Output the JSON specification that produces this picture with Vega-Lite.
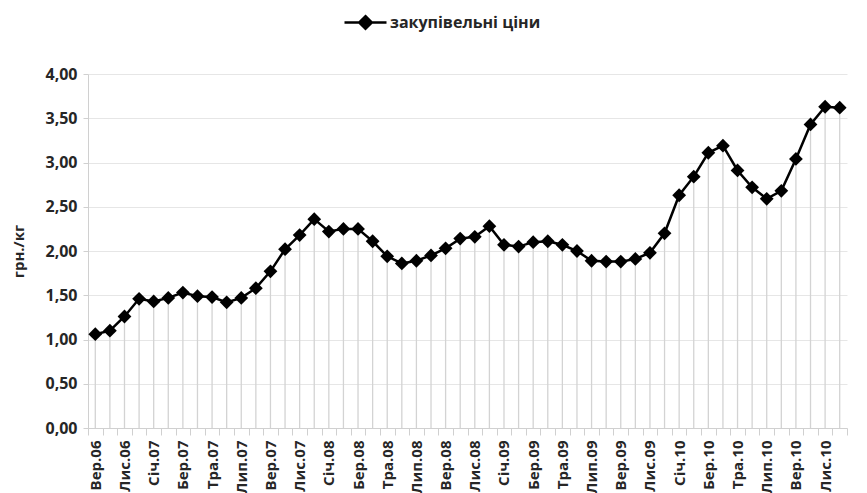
{
  "$schema": "https://vega.github.io/schema/vega-lite/v6.json",
  "width": 759,
  "height": 354,
  "autosize": {"type": "none"},
  "padding": {"left": 88, "top": 74, "right": 20, "bottom": 65},
  "background": "white",
  "config": {
    "view": {"stroke": null},
    "font": "Open Sans",
    "axis": {
      "labelFont": "Open Sans",
      "labelFontWeight": "bold",
      "labelColor": "#262626",
      "titleFont": "Open Sans",
      "titleFontWeight": "bold",
      "titleColor": "#262626",
      "domainColor": "#d0d0d0",
      "tickColor": "#d0d0d0",
      "gridColor": "#e6e6e6"
    }
  },
  "data": {
    "values": [
      {"m": "Вер.06", "v": 1.06, "s": "закупівельні ціни"},
      {"m": "Жов.06", "v": 1.10, "s": "закупівельні ціни"},
      {"m": "Лис.06", "v": 1.26, "s": "закупівельні ціни"},
      {"m": "Гру.06", "v": 1.46, "s": "закупівельні ціни"},
      {"m": "Січ.07", "v": 1.43, "s": "закупівельні ціни"},
      {"m": "Лют.07", "v": 1.47, "s": "закупівельні ціни"},
      {"m": "Бер.07", "v": 1.53, "s": "закупівельні ціни"},
      {"m": "Кві.07", "v": 1.49, "s": "закупівельні ціни"},
      {"m": "Тра.07", "v": 1.48, "s": "закупівельні ціни"},
      {"m": "Чер.07", "v": 1.42, "s": "закупівельні ціни"},
      {"m": "Лип.07", "v": 1.47, "s": "закупівельні ціни"},
      {"m": "Сер.07", "v": 1.58, "s": "закупівельні ціни"},
      {"m": "Вер.07", "v": 1.77, "s": "закупівельні ціни"},
      {"m": "Жов.07", "v": 2.02, "s": "закупівельні ціни"},
      {"m": "Лис.07", "v": 2.18, "s": "закупівельні ціни"},
      {"m": "Гру.07", "v": 2.36, "s": "закупівельні ціни"},
      {"m": "Січ.08", "v": 2.22, "s": "закупівельні ціни"},
      {"m": "Лют.08", "v": 2.25, "s": "закупівельні ціни"},
      {"m": "Бер.08", "v": 2.25, "s": "закупівельні ціни"},
      {"m": "Кві.08", "v": 2.11, "s": "закупівельні ціни"},
      {"m": "Тра.08", "v": 1.94, "s": "закупівельні ціни"},
      {"m": "Чер.08", "v": 1.86, "s": "закупівельні ціни"},
      {"m": "Лип.08", "v": 1.89, "s": "закупівельні ціни"},
      {"m": "Сер.08", "v": 1.95, "s": "закупівельні ціни"},
      {"m": "Вер.08", "v": 2.03, "s": "закупівельні ціни"},
      {"m": "Жов.08", "v": 2.14, "s": "закупівельні ціни"},
      {"m": "Лис.08", "v": 2.16, "s": "закупівельні ціни"},
      {"m": "Гру.08", "v": 2.28, "s": "закупівельні ціни"},
      {"m": "Січ.09", "v": 2.07, "s": "закупівельні ціни"},
      {"m": "Лют.09", "v": 2.05, "s": "закупівельні ціни"},
      {"m": "Бер.09", "v": 2.10, "s": "закупівельні ціни"},
      {"m": "Кві.09", "v": 2.11, "s": "закупівельні ціни"},
      {"m": "Тра.09", "v": 2.07, "s": "закупівельні ціни"},
      {"m": "Чер.09", "v": 2.00, "s": "закупівельні ціни"},
      {"m": "Лип.09", "v": 1.89, "s": "закупівельні ціни"},
      {"m": "Сер.09", "v": 1.88, "s": "закупівельні ціни"},
      {"m": "Вер.09", "v": 1.88, "s": "закупівельні ціни"},
      {"m": "Жов.09", "v": 1.91, "s": "закупівельні ціни"},
      {"m": "Лис.09", "v": 1.98, "s": "закупівельні ціни"},
      {"m": "Гру.09", "v": 2.20, "s": "закупівельні ціни"},
      {"m": "Січ.10", "v": 2.63, "s": "закупівельні ціни"},
      {"m": "Лют.10", "v": 2.84, "s": "закупівельні ціни"},
      {"m": "Бер.10", "v": 3.11, "s": "закупівельні ціни"},
      {"m": "Кві.10", "v": 3.19, "s": "закупівельні ціни"},
      {"m": "Тра.10", "v": 2.91, "s": "закупівельні ціни"},
      {"m": "Чер.10", "v": 2.72, "s": "закупівельні ціни"},
      {"m": "Лип.10", "v": 2.59, "s": "закупівельні ціни"},
      {"m": "Сер.10", "v": 2.68, "s": "закупівельні ціни"},
      {"m": "Вер.10", "v": 3.04, "s": "закупівельні ціни"},
      {"m": "Жов.10", "v": 3.43, "s": "закупівельні ціни"},
      {"m": "Лис.10", "v": 3.63, "s": "закупівельні ціни"},
      {"m": "Гру.10", "v": 3.62, "s": "закупівельні ціни"}
    ]
  },
  "encoding": {
    "x": {
      "field": "m",
      "type": "ordinal",
      "sort": null,
      "scale": {"type": "band", "paddingInner": 0, "paddingOuter": 0},
      "axis": {
        "title": null,
        "labelAngle": -90,
        "labelFontSize": 15,
        "labelOverlap": false,
        "labelPadding": 5,
        "tickBand": "extent",
        "tickSize": 7,
        "grid": false,
        "labelExpr": "indexof(['Жов','Гру','Лют','Кві','Чер','Сер'], slice(datum.label,0,3)) >= 0 ? '' : datum.label"
      }
    }
  },
  "layer": [
    {
      "mark": {"type": "rule", "color": "#d3d3d3", "strokeWidth": 1.3},
      "encoding": {
        "y": {
          "field": "v",
          "type": "quantitative",
          "scale": {"domain": [0, 4], "nice": false},
          "axis": {
            "title": "грн./кг",
            "titleFontSize": 15,
            "titlePadding": 18,
            "values": [0, 0.5, 1, 1.5, 2, 2.5, 3, 3.5, 4],
            "labelFontSize": 16,
            "labelPadding": 6,
            "tickSize": 5,
            "labelExpr": "replace(format(datum.value, '.2f'), '.', ',')"
          }
        },
        "y2": {"datum": 0}
      }
    },
    {
      "mark": {"type": "line", "strokeWidth": 2.5},
      "encoding": {
        "y": {"field": "v", "type": "quantitative"},
        "color": {
          "field": "s",
          "type": "nominal",
          "scale": {"range": ["#000000"]},
          "legend": {
            "title": null,
            "orient": "none",
            "legendX": 269,
            "legendY": -60,
            "symbolType": "M-3,0H3M0,-0.9L0.9,0L0,0.9L-0.9,0Z",
            "symbolSize": 196,
            "symbolFillColor": "#000000",
            "symbolStrokeColor": "#000000",
            "symbolStrokeWidth": 2.5,
            "labelFont": "Open Sans",
            "labelFontWeight": "bold",
            "labelFontSize": 16,
            "labelColor": "#262626",
            "labelOffset": 16
          }
        }
      }
    },
    {
      "mark": {"type": "point", "shape": "diamond", "filled": true, "size": 190, "color": "#000000", "opacity": 1},
      "encoding": {
        "y": {"field": "v", "type": "quantitative"}
      }
    }
  ]
}
